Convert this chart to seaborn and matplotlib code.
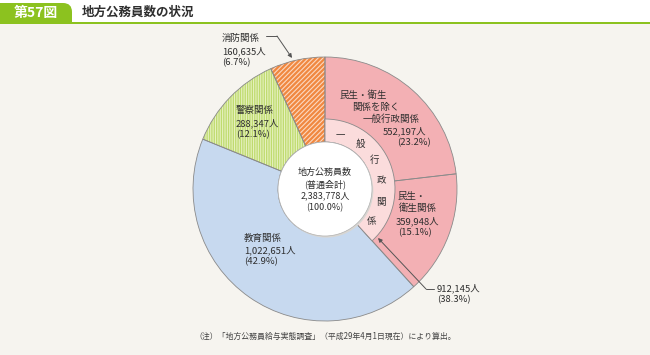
import numpy as np
import matplotlib
matplotlib.use('Agg')
import matplotlib.pyplot as plt
import seaborn as sns
from matplotlib.patches import Circle, Rectangle, FancyBboxPatch

# data
categories = ['民生・衛生関係を除く一般行政関係', '民生・衛生関係', '教育関係', '警察関係', '消防関係']
counts = [552197, 359948, 1022651, 288347, 160635]
shares = [23.2, 15.1, 42.9, 12.1, 6.7]
general_admin = 912145
general_share = 38.3
total = 2383778
inner_chars = ['一', '般', '行', '政', '関', '係']

sns.set_theme(style='white')
plt.rcParams['font.family'] = ['Noto Sans CJK JP', 'DejaVu Sans']
plt.rcParams['hatch.linewidth'] = 0.8

W, H = 650, 355
bg = '#f6f4ef'
txt = '#2e2e2e'
fig = plt.figure(figsize=(6.5, 3.55), dpi=100, facecolor=bg)

# pie axes, centre / radius in pixels
cx, cy, R = 325, 189, 132
m = 1.05
ax = fig.add_axes([(cx - R * m) / W, (H - cy - R * m) / H, 2 * R * m / W, 2 * R * m / H])
r_in = 47 / R
r_mid = 70 / R

fills = ['#f3b0b4', '#f3b0b4', '#c7d9ef', '#bfdb6e', '#f08840']
hatch_cols = ['#f3b0b4', '#f3b0b4', '#c7d9ef', '#e6f1c0', '#fcd9c2']
hatches = [None, None, None, '|||||||', '///////']

wedges, _ = ax.pie(counts, startangle=90, counterclock=False, radius=1, colors=fills,
                   wedgeprops=dict(width=1 - r_in, linewidth=0))
for w, h, hc in zip(wedges, hatches, hatch_cols):
    w.set_edgecolor(hc)
    if h:
        w.set_hatch(h)

# outlines
ax.pie(counts, startangle=90, counterclock=False, radius=1, colors=['none'] * 5,
       wedgeprops=dict(width=1 - r_in, edgecolor='#8a8a8a', linewidth=0.6))

# inner ring: general administration
inner, _ = ax.pie([general_admin, total - general_admin], startangle=90, counterclock=False,
                  radius=r_mid, colors=['#fbdcdc', 'none'],
                  wedgeprops=dict(width=r_mid - r_in, edgecolor='#8a8a8a', linewidth=0.6))
inner[1].set_edgecolor('none')

ax.add_patch(Circle((0.01, -0.012), r_in, facecolor='#d8d6d2', linewidth=0, zorder=4))
ax.add_patch(Circle((0, 0), r_in, facecolor='white', edgecolor='#b0b0b0', linewidth=0.5, zorder=5))
ax.set_xlim(-m, m)
ax.set_ylim(-m, m)
ax.axis('off')

# overlay in pixel coordinates
ov = fig.add_axes([0, 0, 1, 1])
ov.set_xlim(0, W)
ov.set_ylim(H, 0)
ov.axis('off')
ov.set_zorder(3)

green = '#8cc21f'
ov.add_patch(Rectangle((0, 0), W, 22, facecolor='white', linewidth=0))
ov.add_patch(FancyBboxPatch((0, 3), 72, 19, boxstyle='round,pad=0,rounding_size=9',
                            facecolor=green, linewidth=0))
ov.add_patch(Rectangle((0, 3), 20, 19, facecolor=green, linewidth=0))
ov.add_patch(Rectangle((0, 13), 72, 9, facecolor=green, linewidth=0))
ov.add_patch(Rectangle((0, 21.5), W, 2, facecolor=green, linewidth=0))
ov.text(36, 12.5, '第57図', color='white', fontsize=10, fontweight='bold', ha='center', va='center')
ov.text(82, 12.5, '地方公務員数の状況', color=txt, fontsize=9, fontweight='bold', ha='left', va='center')


def lines(x, ys, texts, ha='left', fs=6.8):
    for y, t in zip(ys, texts):
        ov.text(x, y, t, fontsize=fs, color=txt, ha=ha, va='center')


def fmt(v):
    return f'{v:,}人'


# outer labels
lines(222, [38, 51, 63], ['消防関係', fmt(counts[4]), f'({shares[4]}%)'])
lines(236, [110, 123, 135], ['警察関係', fmt(counts[3]), f'({shares[3]}%)'])
lines(244, [238, 250, 262], ['教育関係', fmt(counts[2]), f'({shares[2]}%)'])
for x, y, t in zip([363, 376, 391, 405, 414], [95, 107, 119, 131, 143],
                   ['民生・衛生', '関係を除く', '一般行政関係', fmt(counts[0]), f'({shares[0]}%)']):
    lines(x, [y], [t], ha='center')
for x, y, t in zip([412, 418, 418, 415], [196, 208, 221, 233],
                   ['民生・', '衛生関係', fmt(counts[1]), f'({shares[1]}%)']):
    lines(x, [y], [t], ha='center')
lines(437, [288, 300], [fmt(general_admin), f'({general_share}%)'])

# centre
lines(325, [172, 184, 196, 208], ['地方公務員数', '(普通会計)', fmt(total), '(100.0%)'], ha='center', fs=6.5)

# vertical text on inner ring
for ang, ch in zip(np.linspace(74, -35, len(inner_chars)), inner_chars):
    rr = 57
    ov.text(cx + rr * np.cos(np.radians(ang)), cy - rr * np.sin(np.radians(ang)), ch,
            fontsize=6.8, color=txt, ha='center', va='center')

# leaders
lc = '#555555'
ov.plot([266, 277], [36, 36], color=lc, lw=0.7)
ov.annotate('', xy=(292, 58), xytext=(277, 36),
            arrowprops=dict(arrowstyle='-|>', color=lc, lw=0.7, mutation_scale=6, shrinkA=0, shrinkB=0))
ov.plot([434, 426], [289, 289], color=lc, lw=0.7)
ov.annotate('', xy=(378, 238), xytext=(426, 289),
            arrowprops=dict(arrowstyle='-|>', color=lc, lw=0.7, mutation_scale=6, shrinkA=0, shrinkB=0))

ov.text(325, 336, '（注）「地方公務員給与実態調査」（平成29年4月1日現在）により算出。',
        fontsize=5.7, color='#444444', ha='center', va='center')

fig.savefig('out.png', dpi=100, facecolor=bg)
